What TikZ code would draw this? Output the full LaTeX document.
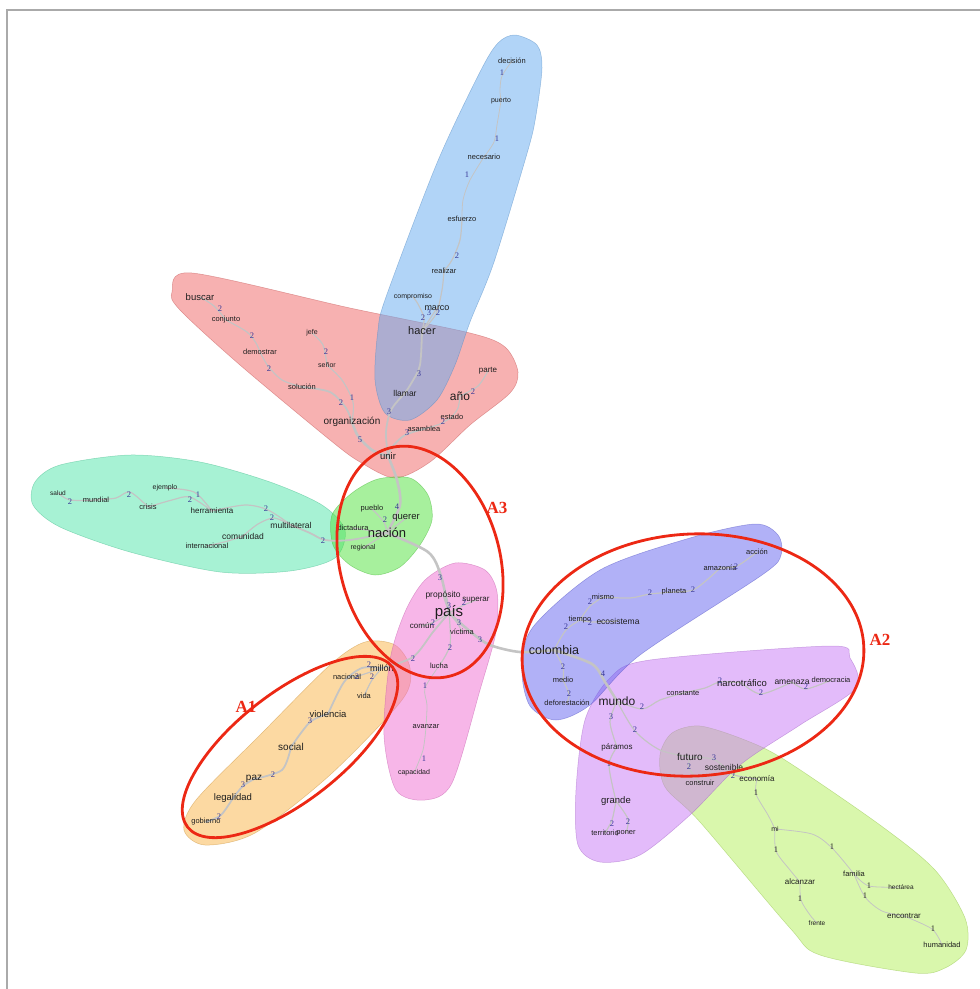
\documentclass[tikz,border=0pt]{standalone}
\usepackage{fontspec}
\setmainfont{Liberation Sans}
\newfontfamily\numfont{Liberation Serif}
\definecolor{cBlue}{RGB}{100,170,240}
\definecolor{cRed}{RGB}{240,100,100}
\definecolor{cMint}{RGB}{80,230,170}
\definecolor{cGreen}{RGB}{80,225,60}
\definecolor{cPink}{RGB}{240,110,210}
\definecolor{cOrange}{RGB}{250,180,70}
\definecolor{cBV}{RGB}{100,100,240}
\definecolor{cViolet}{RGB}{200,120,245}
\definecolor{cYG}{RGB}{180,240,90}
\definecolor{txtc}{RGB}{30,30,30}
\definecolor{numc}{RGB}{55,55,150}
\definecolor{edgec}{RGB}{196,196,196}
\definecolor{redc}{RGB}{236,40,20}
\definecolor{framec}{RGB}{170,170,170}
\pgfdeclarelayer{blobs}
\pgfdeclarelayer{edges}
\pgfsetlayers{blobs,edges,main}
\begin{document}
\begin{tikzpicture}[x=1pt,y=-1pt,
  w/.style={font=\fontsize{#1}{#1}\selectfont, text=txtc, inner sep=0pt},
  num/.style={font=\numfont\fontsize{8.5}{9}\selectfont, text=numc, inner sep=0pt},
  numk/.style={font=\numfont\fontsize{8.5}{9}\selectfont, text=black!85, inner sep=0pt},
  blob/.style={fill=#1, fill opacity=0.5, draw=#1!80!black, draw opacity=0.5, line width=0.5pt},
  e/.style={draw=edgec, line width=1.2pt, line cap=round},
  et/.style={draw=edgec, line width=2.6pt, line cap=round},
  em/.style={draw=edgec, line width=1.8pt, line cap=round},
  en/.style={draw=edgec, line width=0.8pt, line cap=round},
  ring/.style={draw=redc, line width=2.8pt},
  alab/.style={font=\numfont\bfseries\fontsize{17}{17}\selectfont, text=redc, inner sep=0pt}]
\useasboundingbox (0,0) rectangle (980,989);
\draw[framec, line width=2pt] (7,989) -- (7,10) -- (980,10);

% ---------- blobs ----------
\begin{pgfonlayer}{blobs}
\path[blob=cRed] plot[smooth cycle] coordinates {(172,292) (192,273) (350,308) (470,333) (505,347) (518,372) (510,393) (470,425) (430,462) (395,478) (360,462) (330,440) (240,365) (180,310)};
\path[blob=cBlue] plot[smooth cycle] coordinates {(515,35) (537,45) (542,68) (536,115) (528,150) (494,262) (470,322) (455,365) (437,400) (410,420) (385,413) (375,380) (378,330) (386,297) (437,163) (480,72) (498,43)};
\path[blob=cMint] plot[smooth cycle] coordinates {(35,482) (60,465) (130,455) (200,462) (270,482) (322,505) (345,530) (335,558) (290,571) (220,572) (130,552) (60,527) (33,505)};
\path[blob=cGreen] plot[smooth cycle] coordinates {(352,493) (378,479) (410,478) (428,495) (432,520) (420,545) (400,567) (375,575) (350,565) (333,545) (332,515)};
\path[blob=cOrange] plot[smooth cycle] coordinates {(365,642) (395,645) (410,668) (402,700) (330,775) (255,833) (205,845) (184,830) (196,800) (260,735) (330,665)};
\path[blob=cPink] plot[smooth cycle] coordinates {(455,563) (485,570) (497,592) (496,632) (480,690) (452,783) (425,800) (396,790) (384,735) (390,660) (405,612) (425,580)};
\path[blob=cYG] plot[smooth cycle] coordinates {(672,733) (700,726) (745,740) (785,760) (880,825) (935,870) (965,918) (966,950) (945,968) (915,973) (820,955) (790,928) (700,822) (665,787) (660,755)};
\path[blob=cViolet] plot[smooth cycle] coordinates {(650,660) (830,646) (850,658) (856,688) (800,725) (740,765) (690,815) (640,855) (600,862) (578,845) (576,790) (585,720) (610,678)};
\path[blob=cBV] plot[smooth cycle] coordinates {(755,524) (778,535) (781,555) (762,575) (640,655) (590,705) (556,720) (530,706) (522,670) (533,627) (600,570) (690,538)};
\end{pgfonlayer}

% ---------- words ----------
% blue
\node[w=7.5] (decision) at (512,61) {decisión};
\node[w=7] (puerto) at (501,101) {puerto};
\node[w=7.5] (necesario) at (484,157) {necesario};
\node[w=7.5] (esfuerzo) at (462,219) {esfuerzo};
\node[w=7.5] (realizar) at (444,271) {realizar};
\node[w=7] (compromiso) at (413,297) {compromiso};
\node[w=9] (marco) at (437,308) {marco};
\node[w=11] (hacer) at (422,331) {hacer};
\node[w=8.5] (llamar) at (405,393) {llamar};
% red
\node[w=9.5] (buscar) at (200,297) {buscar};
\node[w=7.5] (conjunto) at (226,320) {conjunto};
\node[w=7.5] (demostrar) at (260,352) {demostrar};
\node[w=7.5] (solucion) at (302,387) {solución};
\node[w=7] (jefe) at (312,333) {jefe};
\node[w=7] (senor) at (327,365) {señor};
\node[w=10] (organizacion) at (352,422) {organización};
\node[w=9.5] (unir) at (388,456) {unir};
\node[w=12] (anio) at (460,396) {año};
\node[w=8] (parte) at (488,371) {parte};
\node[w=7.5] (estado) at (452,417) {estado};
\node[w=7.5] (asamblea) at (424,429) {asamblea};
% mint
\node[w=6.5] (salud) at (58,493) {salud};
\node[w=7.5] (mundial) at (96,500) {mundial};
\node[w=7.5] (crisis) at (148,507) {crisis};
\node[w=7] (ejemplo) at (165,488) {ejemplo};
\node[w=8] (herramienta) at (212,511) {herramienta};
\node[w=8.5] (multilateral) at (291,525) {multilateral};
\node[w=8.5] (comunidad) at (243,536) {comunidad};
\node[w=7.5] (internacional) at (207,546) {internacional};
% green
\node[w=7.5] (pueblo) at (372,509) {pueblo};
\node[w=9.5] (querer) at (406,518) {querer};
\node[w=7.5] (dictadura) at (353,528) {dictadura};
\node[w=13] (nacion) at (387,533) {nación};
\node[w=7] (regional) at (363,548) {regional};
% pink
\node[w=8.5] (proposito) at (443,595) {propósito};
\node[w=8] (superar) at (476,600) {superar};
\node[w=15] (pais) at (449,613) {país};
\node[w=8] (comun) at (422,626) {común};
\node[w=7.5] (victima) at (462,632) {víctima};
\node[w=7.5] (lucha) at (439,666) {lucha};
\node[w=7.5] (avanzar) at (426,727) {avanzar};
\node[w=7] (capacidad) at (414,773) {capacidad};
% orange
\node[w=9] (millon) at (382,668) {millón};
\node[w=7.5] (nacional) at (347,677) {nacional};
\node[w=7.5] (vida) at (364,696) {vida};
\node[w=9.5] (violencia) at (328,714) {violencia};
\node[w=10] (social) at (291,747) {social};
\node[w=10] (paz) at (254,779) {paz};
\node[w=9.5] (legalidad) at (233,798) {legalidad};
\node[w=7.5] (gobierno) at (206,822) {gobierno};
% blue-violet
\node[w=7.5] (accion) at (757,552) {acción};
\node[w=7.5] (amazonia) at (720,568) {amazonía};
\node[w=7.5] (planeta) at (674,592) {planeta};
\node[w=7.5] (mismo) at (603,597) {mismo};
\node[w=7.5] (tiempo) at (580,620) {tiempo};
\node[w=8.5] (ecosistema) at (618,621) {ecosistema};
\node[w=12.5] (colombia) at (554,650) {colombia};
\node[w=7.5] (medio) at (563,680) {medio};
\node[w=7.5] (deforestacion) at (567,703) {deforestación};
% violet
\node[w=12] (mundo) at (617,701) {mundo};
\node[w=7.5] (constante) at (683,693) {constante};
\node[w=9.5] (narcotrafico) at (742,683) {narcotráfico};
\node[w=8.5] (amenaza) at (792,682) {amenaza};
\node[w=7.5] (democracia) at (831,680) {democracia};
\node[w=8] (paramos) at (617,747) {páramos};
\node[w=9.5] (grande) at (616,801) {grande};
\node[w=7.5] (territorio) at (605,833) {territorio};
\node[w=7.5] (poner) at (626,833) {poner};
\node[w=10] (futuro) at (690,757) {futuro};
\node[w=8.5] (sostenible) at (724,767) {sostenible};
\node[w=7.5] (construir) at (700,783) {construir};
% yellow-green
\node[w=8] (economia) at (757,779) {economía};
\node[w=7] (mi) at (775,829) {mi};
\node[w=8] (alcanzar) at (800,882) {alcanzar};
\node[w=6.5] (frente) at (817,923) {frente};
\node[w=7.5] (familia) at (854,874) {familia};
\node[w=6.5] (hectarea) at (901,887) {hectárea};
\node[w=8] (encontrar) at (904,916) {encontrar};
\node[w=7.5] (humanidad) at (942,945) {humanidad};

% ---------- edge weights ----------
\foreach \x/\y/\t [count=\i] in {502/73/1, 497/139/1, 467/175/1, 457/256/2, 423/318/2, 429/313/3, 438/313/2, 419/374/3, 389/412/3,
  220/309/2, 252/336/2, 326/352/2, 269/369/2, 341/403/2, 352/398/1, 360/440/5, 473/392/2, 443/422/2, 407/433/3,
  70/502/2, 129/495/2, 190/500/2, 198/495/1, 266/509/2, 272/518/2, 323/541/2,
  397/507/4, 385/520/2,
  440/578/3, 449/606/3, 464/603/2, 433/623/2, 459/623/3, 480/640/3, 450/648/2, 413/659/2, 425/686/1, 424/759/1,
  369/665/2, 357/677/2, 372/677/2, 310/721/3, 273/775/2, 243/785/3, 219/817/2,
  736/567/2, 693/590/2, 650/593/2, 590/602/2, 590/623/2, 566/627/2, 563/667/2, 603/674/4, 569/694/2,
  642/707/2, 720/681/2, 761/693/2, 806/687/2, 611/717/3, 635/730/2, 609/764/1, 714/758/3, 689/767/2, 733/776/2, 612/824/2, 628/822/2}
  \node[num] (k\i) at (\x,\y) {\t};
\foreach \x/\y/\t [count=\i] in {756/793/1, 776/850/1, 832/847/1, 869/886/1, 865/896/1, 800/899/1, 933/929/1}
  \node[numk] (g\i) at (\x,\y) {\t};

% ---------- labels ----------
\node[alab] (la1) at (246,707) {A1};
\node[alab] (la2) at (880,640) {A2};
\node[alab] (la3) at (497,508) {A3};

% ---------- edges ----------
\begin{pgfonlayer}{edges}
% blue
\draw[en] plot[smooth] coordinates {(decision.center) (502,76) (500,90) (puerto.center)};
\draw[en] plot[smooth] coordinates {(puerto.center) (497,125) (494,142) (necesario.center)};
\draw[en] plot[smooth] coordinates {(necesario.center) (470,180) (463,200) (esfuerzo.center)};
\draw[e] plot[smooth] coordinates {(esfuerzo.center) (460,240) (452,260) (realizar.center)};
\draw[e] plot[smooth] coordinates {(realizar.center) (442,290) (436,314) (hacer.center)};
\draw[e] plot[smooth] coordinates {(compromiso.center) (418,304) (424,318) (hacer.center)};
\draw[e] (marco.center) -- (hacer.center);
\draw[em] plot[smooth] coordinates {(hacer.center) (420,365) (412,382) (llamar.center)};
\draw[em] plot[smooth] coordinates {(llamar.center) (391,410) (386,432) (unir.center)};
% red
\draw[e] plot[smooth] coordinates {(buscar.center) (214,306) (conjunto.center)};
\draw[e] plot[smooth] coordinates {(conjunto.center) (247,332) (256,343) (demostrar.center)};
\draw[e] plot[smooth] coordinates {(demostrar.center) (268,366) (282,380) (solucion.center)};
\draw[em] plot[smooth] coordinates {(solucion.center) (330,392) (346,408) (organizacion.center)};
\draw[e] plot[smooth] coordinates {(jefe.center) (323,345) (senor.center)};
\draw[e] plot[smooth] coordinates {(senor.center) (342,380) (353,402) (organizacion.center)};
\draw[et] plot[smooth] coordinates {(organizacion.center) (358,436) (372,450) (unir.center)};
\draw[e] plot[smooth] coordinates {(parte.center) (478,386) (anio.center)};
\draw[e] plot[smooth] coordinates {(anio.center) (458,408) (estado.center)};
\draw[e] plot[smooth] coordinates {(estado.center) (440,424) (asamblea.center)};
\draw[em] plot[smooth] coordinates {(asamblea.center) (405,435) (392,447) (unir.center)};
% trunk
\draw[et] plot[smooth] coordinates {(unir.center) (397,480) (400,505) (nacion.center)};
\draw[et] plot[smooth] coordinates {(nacion.center) (428,552) (441,576) (pais.center)};
\draw[et] plot[smooth] coordinates {(pais.center) (472,633) (490,645) (520,652) (colombia.center)};
\draw[et] plot[smooth] coordinates {(colombia.center) (592,664) (605,682) (mundo.center)};
\draw[em] plot[smooth] coordinates {(multilateral.center) (310,533) (325,540) (350,540) (nacion.center)};
% mint
\draw[e] plot[smooth] coordinates {(salud.center) (70,500) (mundial.center)};
\draw[e] plot[smooth] coordinates {(mundial.center) (116,498) (130,492) (crisis.center)};
\draw[e] plot[smooth] coordinates {(crisis.center) (172,500) (190,497) (herramienta.center)};
\draw[e] plot[smooth] coordinates {(ejemplo.center) (194,492) (herramienta.center)};
\draw[e] plot[smooth] coordinates {(herramienta.center) (245,505) (268,510) (multilateral.center)};
\draw[e] plot[smooth] coordinates {(internacional.center) (228,541) (comunidad.center)};
\draw[e] plot[smooth] coordinates {(comunidad.center) (258,524) (274,518) (multilateral.center)};
% green
\draw[e] plot[smooth] coordinates {(pueblo.center) (384,522) (nacion.center)};
\draw[e] (querer.center) -- (nacion.center);
\draw[e] (dictadura.center) -- (nacion.center);
\draw[e] (regional.center) -- (nacion.center);
% pink
\draw[e] (proposito.center) -- (pais.center);
\draw[e] plot[smooth] coordinates {(superar.center) (464,605) (pais.center)};
\draw[e] plot[smooth] coordinates {(comun.center) (434,622) (pais.center)};
\draw[e] plot[smooth] coordinates {(victima.center) (458,624) (pais.center)};
\draw[e] plot[smooth] coordinates {(pais.center) (450,645) (lucha.center)};
\draw[em] plot[smooth] coordinates {(pais.center) (433,632) (413,657) (millon.center)};
\draw[en] plot[smooth] coordinates {(lucha.center) (425,688) (427,705) (avanzar.center)};
\draw[en] plot[smooth] coordinates {(avanzar.center) (423,750) (capacidad.center)};
% orange
\draw[e] plot[smooth] coordinates {(millon.center) (358,676) (nacional.center)};
\draw[e] plot[smooth] coordinates {(millon.center) (372,680) (vida.center)};
\draw[em] plot[smooth] coordinates {(millon.center) (362,668) (344,682) (violencia.center)};
\draw[em] plot[smooth] coordinates {(violencia.center) (310,722) (social.center)};
\draw[em] plot[smooth] coordinates {(social.center) (282,770) (paz.center)};
\draw[em] plot[smooth] coordinates {(paz.center) (243,786) (legalidad.center)};
\draw[em] plot[smooth] coordinates {(legalidad.center) (221,815) (gobierno.center)};
% blue-violet
\draw[e] plot[smooth] coordinates {(colombia.center) (566,630) (tiempo.center)};
\draw[e] plot[smooth] coordinates {(tiempo.center) (590,606) (mismo.center)};
\draw[e] plot[smooth] coordinates {(tiempo.center) (592,622) (ecosistema.center)};
\draw[e] plot[smooth] coordinates {(mismo.center) (630,598) (650,594) (planeta.center)};
\draw[e] plot[smooth] coordinates {(planeta.center) (693,590) (708,579) (amazonia.center)};
\draw[e] plot[smooth] coordinates {(amazonia.center) (737,566) (accion.center)};
\draw[e] plot[smooth] coordinates {(colombia.center) (563,667) (medio.center)};
\draw[e] plot[smooth] coordinates {(medio.center) (569,694) (deforestacion.center)};
% violet
\draw[e] plot[smooth] coordinates {(mundo.center) (642,709) (660,700) (constante.center)};
\draw[e] plot[smooth] coordinates {(constante.center) (705,688) (720,682) (narcotrafico.center)};
\draw[e] plot[smooth] coordinates {(narcotrafico.center) (761,694) (amenaza.center)};
\draw[e] plot[smooth] coordinates {(amenaza.center) (806,689) (democracia.center)};
\draw[e] plot[smooth] coordinates {(mundo.center) (610,722) (paramos.center)};
\draw[e] plot[smooth] coordinates {(paramos.center) (609,765) (grande.center)};
\draw[e] plot[smooth] coordinates {(grande.center) (612,820) (territorio.center)};
\draw[e] plot[smooth] coordinates {(grande.center) (628,819) (poner.center)};
\draw[e] plot[smooth] coordinates {(mundo.center) (635,731) (660,750) (futuro.center)};
\draw[e] plot[smooth] coordinates {(futuro.center) (713,759) (sostenible.center)};
\draw[e] plot[smooth] coordinates {(futuro.center) (689,768) (construir.center)};
\draw[e] plot[smooth] coordinates {(sostenible.center) (734,775) (economia.center)};
% yellow-green
\draw[en] plot[smooth] coordinates {(economia.center) (756,794) (768,815) (mi.center)};
\draw[en] plot[smooth] coordinates {(mi.center) (776,851) (790,870) (alcanzar.center)};
\draw[en] plot[smooth] coordinates {(alcanzar.center) (801,900) (810,915) (frente.center)};
\draw[en] plot[smooth] coordinates {(mi.center) (812,834) (832,848) (familia.center)};
\draw[en] plot[smooth] coordinates {(familia.center) (869,886) (hectarea.center)};
\draw[en] plot[smooth] coordinates {(familia.center) (865,897) (882,911) (encontrar.center)};
\draw[en] plot[smooth] coordinates {(encontrar.center) (932,929) (humanidad.center)};
\end{pgfonlayer}

% ---------- red rings ----------
\draw[ring, rotate around={15:(420,562)}] (420,562) ellipse [x radius=80pt, y radius=118pt];
\draw[ring, rotate around={38:(290,747)}] (290,747) ellipse [x radius=130pt, y radius=54pt];
\draw[ring, rotate around={3:(693,655)}] (693,655) ellipse [x radius=171pt, y radius=121pt];
\end{tikzpicture}
\end{document}
